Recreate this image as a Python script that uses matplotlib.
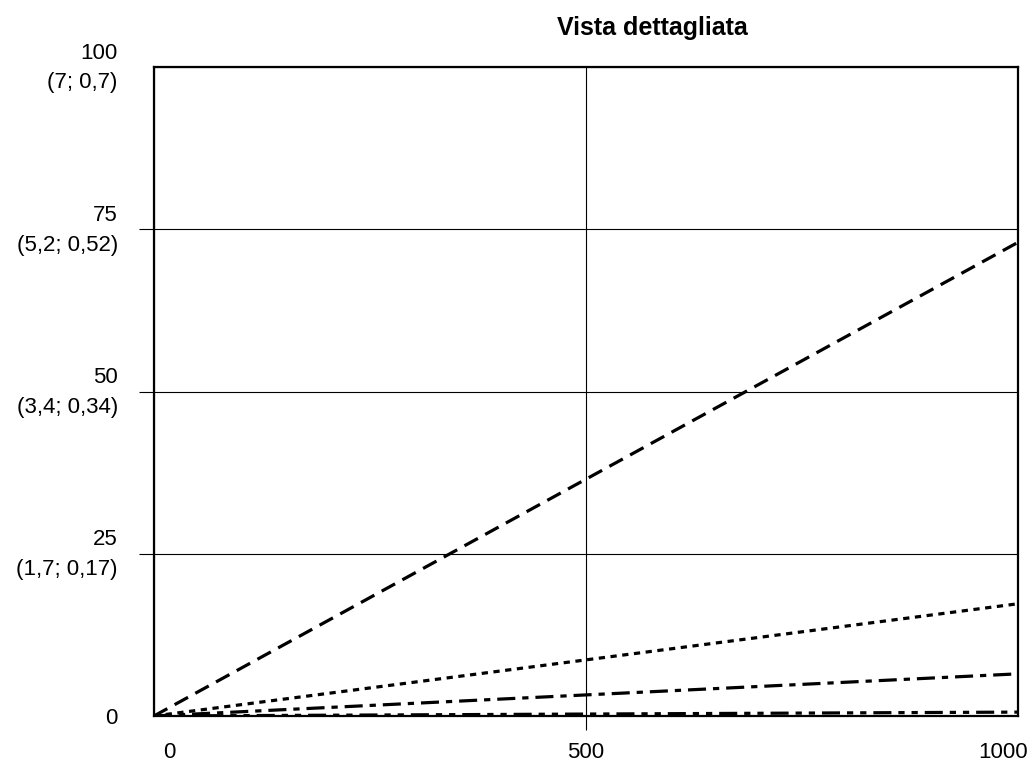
import matplotlib
matplotlib.use("Agg")
import matplotlib.pyplot as plt
import matplotlib.transforms as mtransforms

plt.rcParams['font.family'] = ['Liberation Sans', 'DejaVu Sans']
plt.rcParams['lines.scale_dashes'] = False

# x range and end values of the four lines (all start at 0)
x_vals = [0, 1000]
dashed_vals = [0, 73.0]
dotted_vals = [0, 17.3]
dashdot_vals = [0, 6.5]
dashdotdot_vals = [0, 0.6]

y_ticks = [0, 25, 50, 75, 100]
y_labels = ["0", "25\n(1,7; 0,17)", "50\n(3,4; 0,34)", "75\n(5,2; 0,52)", "100\n(7; 0,7)"]
x_ticks = [0, 500, 1000]

fig = plt.figure(figsize=(10.33, 7.63), dpi=100)
ax = fig.add_axes([0.149, 0.0616, 0.8365, 0.8504])

lw = 2.3
ax.plot(x_vals, dashed_vals, color='black', lw=lw, dashes=(11, 6))
ax.plot(x_vals, dotted_vals, color='black', lw=lw, dashes=(4.5, 4))
ax.plot(x_vals, dashdot_vals, color='black', lw=lw, dashes=(13, 5, 4.5, 5))
ax.plot(x_vals, dashdotdot_vals, color='black', lw=lw, dashes=(13, 5, 4.5, 5, 4.5, 5))

ax.set_xlim(0, 1000)
ax.set_ylim(0, 100)
ax.set_xticks(x_ticks)
ax.set_xticklabels([str(t) for t in x_ticks], fontsize=16)
ax.set_yticks(y_ticks)
ax.set_yticklabels(y_labels, fontsize=16, multialignment='right', linespacing=1.55)
ax.grid(True, color='black', lw=0.8)
ax.tick_params(axis='x', direction='out', length=10, width=0.8, pad=9)
ax.tick_params(axis='y', direction='out', length=11, width=0.8, pad=15)
for s in ax.spines.values():
    s.set_linewidth(1.6)

# no tick marks at the plot edges
for tk in [ax.xaxis.get_major_ticks()[0], ax.xaxis.get_major_ticks()[-1],
           ax.yaxis.get_major_ticks()[0], ax.yaxis.get_major_ticks()[-1]]:
    tk.tick1line.set_visible(False)

# end labels of the x axis pulled inwards
xlabs = ax.get_xticklabels()
xlabs[0].set_transform(xlabs[0].get_transform() +
                       mtransforms.ScaledTranslation(15 / 100, 0, fig.dpi_scale_trans))
xlabs[-1].set_transform(xlabs[-1].get_transform() +
                        mtransforms.ScaledTranslation(-15 / 100, 0, fig.dpi_scale_trans))

# two-line y labels sit a little above their gridline
for lab in ax.get_yticklabels()[1:]:
    lab.set_transform(lab.get_transform() +
                      mtransforms.ScaledTranslation(0, 6 / 100, fig.dpi_scale_trans))

fig.text(0.632, 0.963, "Vista dettagliata", fontsize=18, fontweight='bold',
         ha='center', va='center')

fig.savefig("out.png", dpi=100)
